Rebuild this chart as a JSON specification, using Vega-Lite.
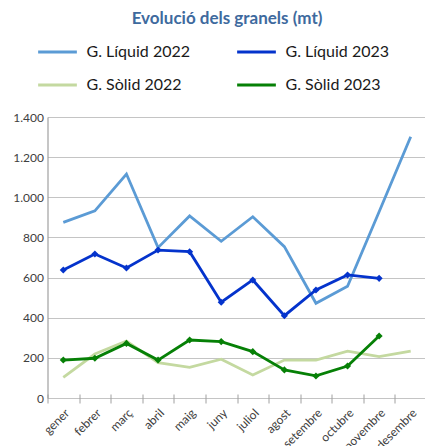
{
  "$schema": "https://vega.github.io/schema/vega-lite/v6.json",
  "width": 379,
  "height": 281,
  "autosize": {"type": "none"},
  "padding": {"left": 47.5, "top": 117, "right": 0, "bottom": 48},
  "background": "white",
  "title": {"text": "Evolució dels granels (mt)", "font": "Lato", "fontSize": 17, "fontWeight": "bold", "color": "#3E6A9E", "anchor": "middle", "frame": "group", "dx": -10, "offset": -10, "baseline": "alphabetic"},
  "config": {"view": {"stroke": null}},
  "data": {"values": [
    {"mes": "gener", "serie": "G. Líquid 2022", "valor": 875},
    {"mes": "febrer", "serie": "G. Líquid 2022", "valor": 932},
    {"mes": "març", "serie": "G. Líquid 2022", "valor": 1116},
    {"mes": "abril", "serie": "G. Líquid 2022", "valor": 749},
    {"mes": "maig", "serie": "G. Líquid 2022", "valor": 907},
    {"mes": "juny", "serie": "G. Líquid 2022", "valor": 781},
    {"mes": "juliol", "serie": "G. Líquid 2022", "valor": 903},
    {"mes": "agost", "serie": "G. Líquid 2022", "valor": 754},
    {"mes": "setembre", "serie": "G. Líquid 2022", "valor": 472},
    {"mes": "octubre", "serie": "G. Líquid 2022", "valor": 557},
    {"mes": "novembre", "serie": "G. Líquid 2022", "valor": 928},
    {"mes": "desembre", "serie": "G. Líquid 2022", "valor": 1302},
    {"mes": "gener", "serie": "G. Líquid 2023", "valor": 638},
    {"mes": "febrer", "serie": "G. Líquid 2023", "valor": 717},
    {"mes": "març", "serie": "G. Líquid 2023", "valor": 648},
    {"mes": "abril", "serie": "G. Líquid 2023", "valor": 737},
    {"mes": "maig", "serie": "G. Líquid 2023", "valor": 729},
    {"mes": "juny", "serie": "G. Líquid 2023", "valor": 477},
    {"mes": "juliol", "serie": "G. Líquid 2023", "valor": 588},
    {"mes": "agost", "serie": "G. Líquid 2023", "valor": 410},
    {"mes": "setembre", "serie": "G. Líquid 2023", "valor": 538},
    {"mes": "octubre", "serie": "G. Líquid 2023", "valor": 613},
    {"mes": "novembre", "serie": "G. Líquid 2023", "valor": 596},
    {"mes": "gener", "serie": "G. Sòlid 2022", "valor": 103},
    {"mes": "febrer", "serie": "G. Sòlid 2022", "valor": 219},
    {"mes": "març", "serie": "G. Sòlid 2022", "valor": 284},
    {"mes": "abril", "serie": "G. Sòlid 2022", "valor": 176},
    {"mes": "maig", "serie": "G. Sòlid 2022", "valor": 153},
    {"mes": "juny", "serie": "G. Sòlid 2022", "valor": 193},
    {"mes": "juliol", "serie": "G. Sòlid 2022", "valor": 115},
    {"mes": "agost", "serie": "G. Sòlid 2022", "valor": 189},
    {"mes": "setembre", "serie": "G. Sòlid 2022", "valor": 189},
    {"mes": "octubre", "serie": "G. Sòlid 2022", "valor": 233},
    {"mes": "novembre", "serie": "G. Sòlid 2022", "valor": 206},
    {"mes": "desembre", "serie": "G. Sòlid 2022", "valor": 234},
    {"mes": "gener", "serie": "G. Sòlid 2023", "valor": 189},
    {"mes": "febrer", "serie": "G. Sòlid 2023", "valor": 198},
    {"mes": "març", "serie": "G. Sòlid 2023", "valor": 272},
    {"mes": "abril", "serie": "G. Sòlid 2023", "valor": 189},
    {"mes": "maig", "serie": "G. Sòlid 2023", "valor": 289},
    {"mes": "juny", "serie": "G. Sòlid 2023", "valor": 281},
    {"mes": "juliol", "serie": "G. Sòlid 2023", "valor": 231},
    {"mes": "agost", "serie": "G. Sòlid 2023", "valor": 140},
    {"mes": "setembre", "serie": "G. Sòlid 2023", "valor": 110},
    {"mes": "octubre", "serie": "G. Sòlid 2023", "valor": 159},
    {"mes": "novembre", "serie": "G. Sòlid 2023", "valor": 309}
  ]},
  "encoding": {
    "x": {
      "field": "mes", "type": "nominal", "bandPosition": 0.5,
      "sort": ["gener", "febrer", "març", "abril", "maig", "juny", "juliol", "agost", "setembre", "octubre", "novembre", "desembre"],
      "scale": {"type": "band", "paddingInner": 0, "paddingOuter": 0},
      "axis": {"title": null, "domain": false, "offset": -4, "tickSize": 9, "tickBand": "extent", "tickColor": "#A0A0A0", "tickWidth": 1, "labelAngle": -45, "labelFont": "Lato", "labelFontSize": 12, "labelColor": "#404040", "labelPadding": 4, "grid": false}
    },
    "y": {
      "field": "valor", "type": "quantitative",
      "scale": {"domain": [0, 1400], "nice": false},
      "axis": {"title": null, "values": [0, 200, 400, 600, 800, 1000, 1200, 1400], "labelExpr": "replace(format(datum.value, ','), ',', '.')", "grid": true, "gridColor": "#C4C4C4", "gridWidth": 1.2, "domainColor": "#A0A0A0", "domainWidth": 1.2, "ticks": false, "labelPadding": 4, "labelFont": "Lato", "labelFontSize": 12, "labelColor": "#404040"}
    },
    "color": {
      "field": "serie", "type": "nominal",
      "scale": {"domain": ["G. Líquid 2022", "G. Sòlid 2022", "G. Líquid 2023", "G. Sòlid 2023"], "range": ["#5B9BD5", "#C4D9A0", "#0433CC", "#068006"]},
      "legend": {"orient": "none", "legendX": -11, "legendY": -86, "columns": 2, "title": null, "symbolType": "stroke", "symbolSize": 1500, "symbolStrokeWidth": 3, "labelFont": "Lato", "labelFontSize": 16, "labelColor": "#1A1A1A", "labelOffset": 8, "columnPadding": 40, "rowPadding": 4, "padding": 0}
    }
  },
  "layer": [
    {"mark": {"type": "line", "strokeWidth": 2.8}},
    {
      "transform": [{"filter": "indexof(datum.serie, '2023') >= 0"}],
      "mark": {"type": "point", "shape": "diamond", "filled": true, "opacity": 1, "size": 50}
    }
  ]
}
